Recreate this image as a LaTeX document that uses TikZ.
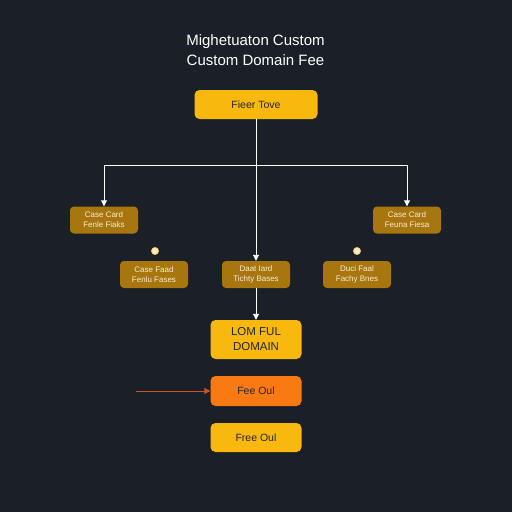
\documentclass[tikz,border=0pt]{standalone}
\usepackage{fontspec}
\setmainfont{Liberation Sans}
\usetikzlibrary{arrows.meta}
\definecolor{bg}{HTML}{1B1F27}
\definecolor{gold}{HTML}{F8B80E}
\definecolor{brownbox}{HTML}{A8760F}
\definecolor{orng}{HTML}{F97A12}
\definecolor{redline}{HTML}{C8552A}
\definecolor{cream}{HTML}{F8ECD0}
\begin{document}
\begin{tikzpicture}[x=1pt,y=-1pt,
  goldbox/.style={fill=gold,rounded corners=5pt,minimum width=123pt,minimum height=29pt,font=\fontsize{10.5}{12}\selectfont,text=black!85},
  lowbox/.style={fill=gold,rounded corners=5pt,minimum width=91pt,font=\fontsize{11.5}{15}\selectfont,text=black!85,align=center},
  smallbox/.style={fill=brownbox,rounded corners=4pt,minimum width=68pt,minimum height=27pt,font=\fontsize{8}{10}\selectfont,text=cream,align=center,inner sep=1pt},
  conn/.style={draw=white,line width=0.9pt,-{Triangle[width=6pt,length=6pt]}},
  dot/.style={circle,fill=cream,draw=gold!70,line width=0.8pt,inner sep=0pt,minimum size=7pt}]
\fill[bg] (0,0) rectangle (512,512);
\useasboundingbox (0,0) rectangle (512,512);
\node[text=white,font=\fontsize{15}{20}\selectfont,align=center] (title) at (255.5,50) {Mighetuaton Custom\\Custom Domain Fee};
\node[goldbox] (top) at (256,104.5) {Fieer Tove};
\node[smallbox] (l1) at (104,220) {Case Card\\Fenle Fiaks};
\node[smallbox] (r1) at (407,220) {Case Card\\Feuna Fiesa};
\node[smallbox] (m1) at (154,274.5) {Case Faad\\Fenlu Fases};
\node[smallbox] (m2) at (256,274.5) {Daat Iard\\Tichty Bases};
\node[smallbox] (m3) at (357,274.5) {Duci Faal\\Fachy Bnes};
\node[dot] (d1) at (155,251) {};
\node[dot] (d2) at (357,251) {};
\node[lowbox,minimum height=39pt] (lom) at (256,339.5) {LOM FUL\\DOMAIN};
\node[lowbox,fill=orng,minimum height=30pt,font=\fontsize{10.5}{12}\selectfont] (fee) at (256,391) {Fee Oul};
\node[lowbox,minimum height=29pt,font=\fontsize{10.5}{12}\selectfont] (free) at (256,437.5) {Free Oul};
\coordinate (hl) at (104,165);
\coordinate (hr) at (407,165);
\coordinate (jn) at (256,165);
\coordinate (src) at (136,391);
\draw[conn] (top.south) -- (m2.north);
\draw[conn] (jn) -- (hl) -- (l1.north);
\draw[conn] (jn) -- (hr) -- (r1.north);
\draw[conn] (m2.south) -- (lom.north);
\draw[draw=redline,line width=0.9pt,-{Triangle[width=6pt,length=6pt]}] (src) -- (fee.west);
\end{tikzpicture}
\end{document}
